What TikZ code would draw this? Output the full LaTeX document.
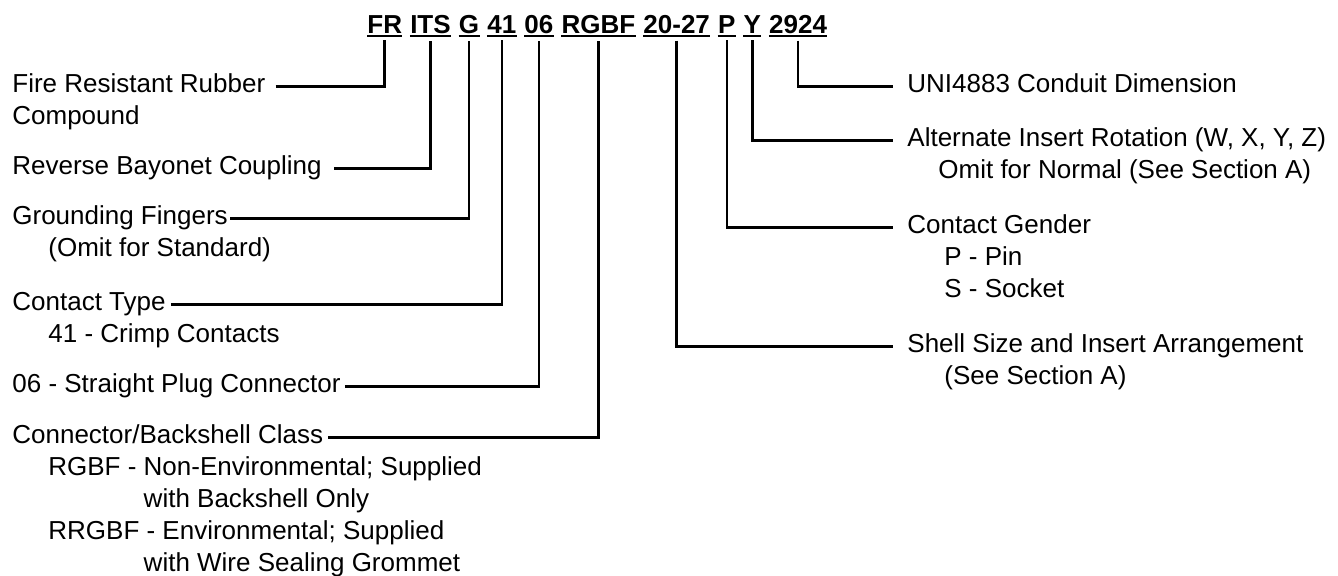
\documentclass[tikz,border=0pt]{standalone}
\usepackage{fontspec}
\setmainfont{Liberation Sans}
\usepackage{tikz}
\usetikzlibrary{chains,scopes,positioning}

\begin{document}
\begin{tikzpicture}[x=0.5pt,y=-0.5pt,
	txt/.style={anchor=base west,inner sep=0pt,align=left,font=\fontsize{13}{16}\selectfont},
	code/.style={on chain,inner xsep=0pt,inner ysep=3.5pt,font=\fontsize{13}{16}\selectfont\bfseries},
	conn/.style={line width=1.25pt},
	uline/.style={line width=1.3pt}]
	\useasboundingbox (0,0) rectangle (1338,575);
	% part number
	{ [start chain=code going base right,node distance=3.7pt]
		\node[code,anchor=base west] (pfr) at (367,33) {FR};
		\node[code] (pits) {ITS};
		\node[code] (pg) {G};
		\node[code] (p41) {41};
		\node[code] (p06) {06};
		\node[code] (prgbf) {RGBF};
		\node[code] (p2027) {20-27};
		\node[code] (pp) {P};
		\node[code] (py) {Y};
		\node[code] (p2924) {2924};
	}
	\foreach \c in {pfr,pits,pg,p41,p06,prgbf,p2027,pp,py,p2924}
		\draw[uline] ([yshift=-1.4pt]\c.base west) -- ([yshift=-1.4pt]\c.base east);
	% left side (multi-line nodes sit on their last line)
	\node[txt] (fire) at (12,92) {Fire Resistant Rubber};
	\node[txt] (comp) at (12,124) {Compound};
	\node[txt] (rev) at (12,174) {Reverse Bayonet Coupling};
	\node[txt] (grnd) at (12,224) {Grounding Fingers};
	\node[txt] (grndsub) at (48,256) {(Omit for Standard)};
	\node[txt] (ctype) at (12,310) {Contact Type};
	\node[txt] (ctypesub) at (48,342) {41 - Crimp Contacts};
	\node[txt] (plug) at (12,392) {06 - Straight Plug Connector};
	\node[txt] (bshell) at (12,443) {Connector/Backshell Class};
	\node[txt] (bshellsub) at (48,571) {RGBF - Non-Environmental; Supplied\\
		\hphantom{RGBF - }with Backshell Only\\
		RRGBF - Environmental; Supplied\\
		\hphantom{RGBF - }with Wire Sealing Grommet};
	% right side
	\node[txt] (uni) at (907,92) {UNI4883 Conduit Dimension};
	\node[txt] (rot) at (907,146) {Alternate Insert Rotation (W, X, Y, Z)};
	\node[txt] (rotsub) at (938,178) {Omit for Normal (See Section A)};
	\node[txt] (gender) at (907,233) {Contact Gender};
	\node[txt] (gendersub) at (944,297) {P - Pin\\S - Socket};
	\node[txt] (shell) at (907,352) {Shell Size and Insert Arrangement};
	\node[txt] (shellsub) at (944,384) {(See Section A)};
	% leaders
	\draw[conn] ([xshift=5pt]fire.mid east) -| (pfr.south);
	\draw[conn] ([xshift=6pt]rev.mid east) -| (pits.south);
	\draw[conn] ([xshift=1pt]grnd.mid east) -| (pg.south);
	\draw[conn] ([xshift=2.5pt]ctype.mid east) -| (p41.south);
	\draw[conn] ([xshift=2pt]plug.mid east) -| (p06.south);
	\draw[conn] ([xshift=2.5pt]bshell.mid east) -| (prgbf.south);
	\draw[conn] (p2027.south) |- ([xshift=-7pt]shell.mid west);
	\draw[conn] (pp.south) |- ([xshift=-7pt]gender.mid west);
	\draw[conn] (py.south) |- ([xshift=-7pt]rot.mid west);
	\draw[conn] (p2924.south) |- ([xshift=-7pt]uni.mid west);
\end{tikzpicture}
\end{document}
